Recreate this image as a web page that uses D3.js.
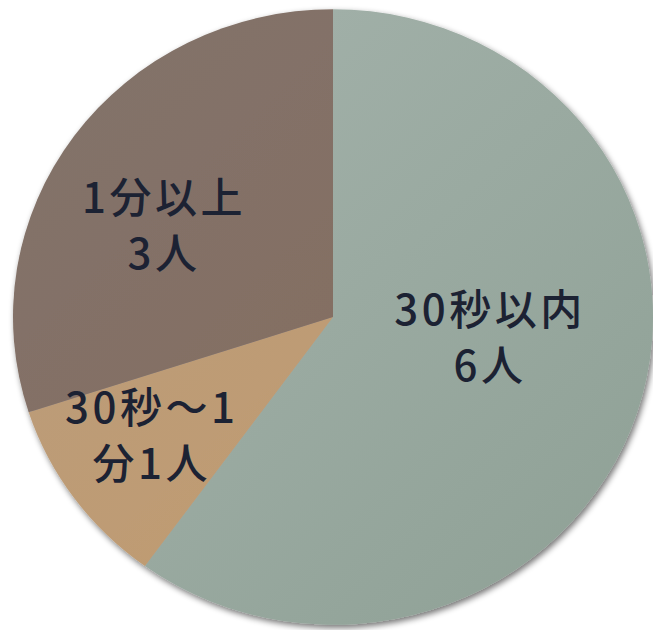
<!DOCTYPE html>
<html><head><meta charset="utf-8">
<script src="https://cdn.jsdelivr.net/npm/d3@7"></script>
<style>html,body{margin:0;padding:0;background:#fff;}svg{display:block;}</style>
</head><body>
<svg id="chart" width="653" height="630"></svg>
<script>
// Data
const categories = ["30秒以内", "30秒～1分", "1分以上"];
const values = [6, 1, 3];
const labelLines = [["30秒以内", "6人"], ["30秒～1", "分1人"], ["1分以上", "3人"]];

// Styling / layout
const colorsLight = ["#a6b4ad", "#b89c7f", "#82746b"];
const colorsDark  = ["#8ea095", "#c49b69", "#86695c"];
const W = 653, H = 630;
const cx = 333, cy = 317, R = 320, yScale = 0.962;
const labelPlacement = [ // [radius fraction, angle offset (deg)] relative to slice mid-angle
  [0.49, -10], [0.69, 2], [0.61, -7]
];
const fontSize = 42, lineGap = 56, spacing = 3.5;

const svg = d3.select("#chart");
const defs = svg.append("defs");
const f = defs.append("filter").attr("id", "sh").attr("x", "-10%").attr("y", "-10%").attr("width", "120%").attr("height", "120%");
f.append("feGaussianBlur").attr("in", "SourceAlpha").attr("stdDeviation", 3).attr("result", "b");
f.append("feOffset").attr("in", "b").attr("dx", 2).attr("dy", 3).attr("result", "o");
f.append("feComponentTransfer").attr("in", "o").attr("result", "o2")
  .append("feFuncA").attr("type", "linear").attr("slope", 0.55);
const m = f.append("feMerge");
m.append("feMergeNode").attr("in", "o2");
m.append("feMergeNode").attr("in", "SourceGraphic");

categories.forEach((c, i) => {
  const g = defs.append("linearGradient").attr("id", "g" + i)
    .attr("gradientUnits", "userSpaceOnUse")
    .attr("x1", -R).attr("y1", -R).attr("x2", R).attr("y2", R);
  g.append("stop").attr("offset", "0%").attr("stop-color", colorsLight[i]);
  g.append("stop").attr("offset", "100%").attr("stop-color", colorsDark[i]);
});

const pie = d3.pie().sort(null).value(d => d)(values);
const arc = d3.arc().innerRadius(0).outerRadius(R);

const outer = svg.append("g").attr("filter", "url(#sh)");
const g = outer.append("g").attr("transform", `translate(${cx},${cy}) scale(1,${yScale})`);
g.selectAll("path").data(pie).join("path")
  .attr("d", arc)
  .attr("fill", (d, i) => `url(#g${i})`);

const labels = svg.append("g");
pie.forEach((d, i) => {
  const [k, off] = labelPlacement[i];
  const a = (d.startAngle + d.endAngle) / 2 + off * Math.PI / 180;
  const x = cx + Math.sin(a) * R * k + spacing / 2;
  const y = cy - Math.cos(a) * R * k * yScale;
  const t = labels.append("text")
    .attr("x", x).attr("y", y)
    .attr("text-anchor", "middle")
    .attr("font-family", "'Noto Sans CJK JP', 'Noto Sans', sans-serif")
    .attr("font-size", fontSize)
    .attr("font-weight", 500)
    .attr("letter-spacing", spacing)
    .attr("fill", "#1c2233");
  labelLines[i].forEach((ln, j) => {
    t.append("tspan").attr("x", x)
      .attr("y", y + (j - (labelLines[i].length - 1) / 2) * lineGap + fontSize * 0.36)
      .text(ln);
  });
});
</script>
</body></html>
